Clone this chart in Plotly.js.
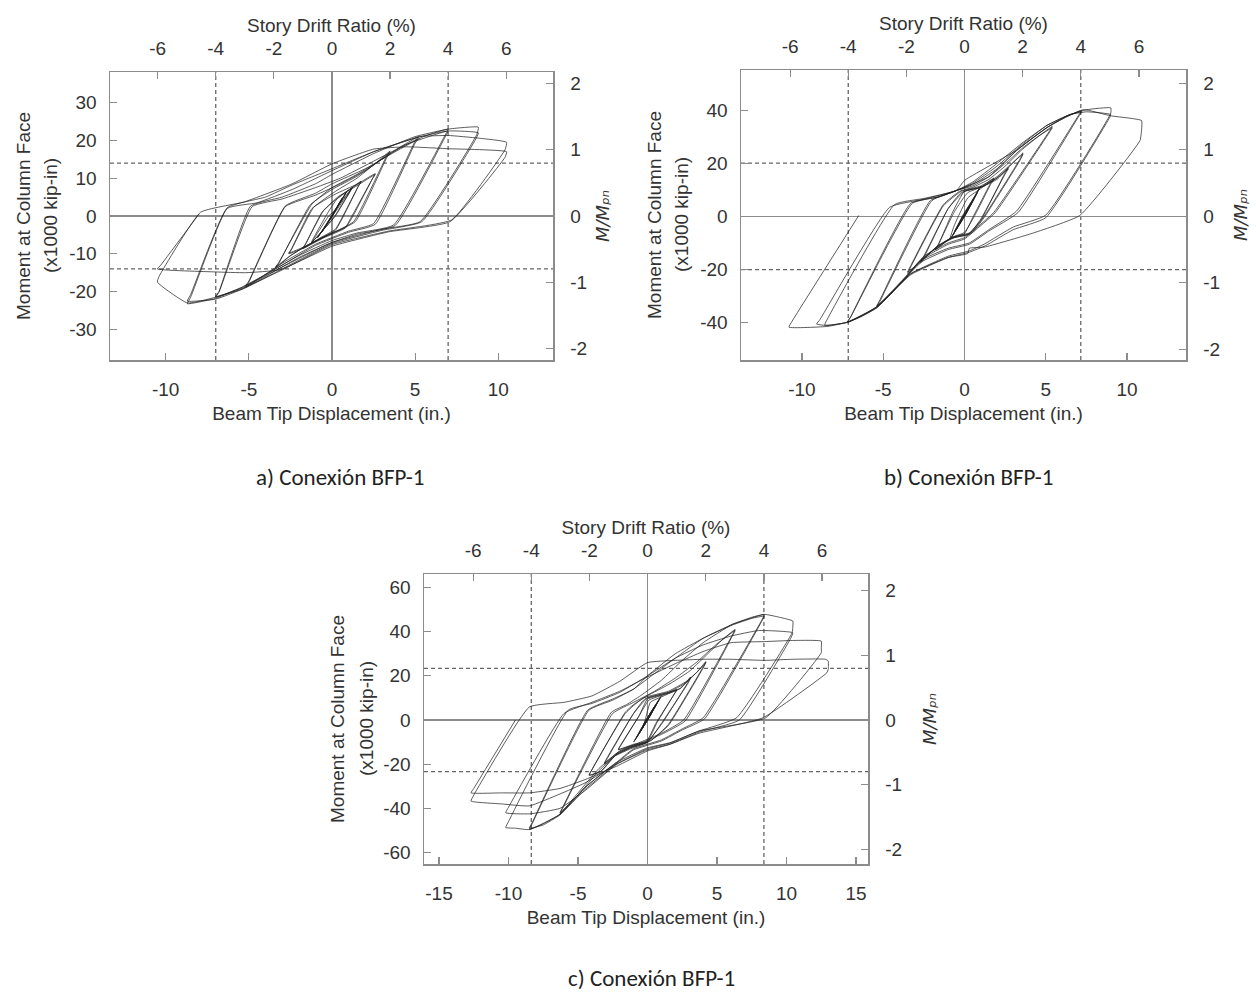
<!DOCTYPE html>
<html><head><meta charset="utf-8">
<script src="https://cdn.plot.ly/plotly-3.0.1.min.js"></script>
<style>html,body{margin:0;padding:0;background:#fff}#chart{width:1256px;height:992px}</style>
</head><body><div id="chart"></div>
<script>
// ---------- DATA ----------
// Beam tip displacement (in.) / moment at column face (x1000 kip-in), path order
const loopA = [
[0,0],[0.6,4.6],[-0.05,-0.4],[-0.6,-4.2],[0.05,0.6],[0.62,4.8],[-0.05,-0.5],[-0.62,-4.3],
[0.85,6.2],[-0.1,-0.8],[-0.85,-5.6],[0.1,0.9],[0.88,6.4],[-0.1,-0.7],[-0.88,-5.8],
[1.2,7.4],[0.2,0.2],[-0.1,-1.5],[-1.2,-6.9],[-0.2,0],[0.1,1.2],[1.25,7.7],[0.2,0],[-0.1,-1.6],[-1.25,-7.1],[-0.3,0.5],
[0.3,4.5],[1.75,9],[1.6,8],[0.6,-0.5],[0.2,-3.5],[-0.8,-6],[-1.75,-8.5],[-1.6,-7.5],[-0.6,1],[0.3,4.6],[1.75,9.2],[1.6,8],[0.6,-0.8],[0.2,-3.8],[-0.8,-6.2],[-1.75,-8.6],[-1.6,-7.5],[-0.5,1.5],
[0.4,5.2],[1.5,8],[2.6,11],[2.45,10],[1.2,0],[0.8,-3],[-0.5,-5.5],[-1.6,-8],[-2.6,-9.8],[-2.45,-8.8],[-1.2,2],[0.2,5.8],[1.5,8.4],[2.6,11.2],[2.45,10],[1.2,-0.5],[0.8,-3.2],[-0.5,-5.8],[-1.6,-8.3],[-2.6,-10],[-2.45,-9],[-1.1,2.3],
[0.2,6.5],[1.5,10],[2.5,13.5],[3.5,17.2],[3.3,16],[1.3,-1.5],[0,-4.5],[-1.5,-7.8],[-2.5,-10.5],[-3.4,-13.8],[-3.2,-12.5],[-1.3,3],[0,7],[1.5,10.5],[2.6,13.8],[3.5,16.8],[3.3,15.5],[1.4,-1.5],[0,-4.6],[-1.6,-8],[-2.6,-10.8],[-3.4,-13.5],[-3.2,-12.3],[-1.2,3.2],
[0,7.5],[1.5,11],[3,15],[4.2,18.5],[5.2,21],[5,19.8],[2.5,-2],[1,-4],[-1,-7.5],[-3,-12.5],[-4.2,-16],[-5.2,-18.8],[-5,-17.5],[-2.8,2.5],[-1,5.5],[0.5,8.5],[2,12],[3.5,16.5],[5.2,20.5],[5,19.3],[2.6,-2.2],[1,-4.3],[-1,-7.8],[-3,-13],[-4.3,-16.3],[-5.2,-18.5],[-5,-17.2],[-2.8,2.7],
[-1,6],[0,8.5],[2,12.5],[4,17.5],[5.5,21],[7,23],[6.85,21.8],[3.7,-2.4],[1.5,-4.5],[0,-6.5],[-2,-10.5],[-4,-15.5],[-5.5,-19],[-7,-21.5],[-6.8,-20.2],[-4.8,2.5],[-3,4.5],[-1,7.5],[0.5,10],[2.5,14.5],[4.5,19],[7,22.5],[6.85,21.3],[3.8,-2.5],[1.5,-4.8],[0,-7],[-2,-11],[-4,-16],[-5.5,-19.5],[-7,-21.3],[-6.8,-20],[-4.9,2.6],
[-3,5],[-1,8.5],[0,11],[2.5,16.5],[5,21],[7,23],[8.8,23.5],[8.7,21.5],[5.3,-1.5],[3,-3.5],[0,-7],[-3,-13.5],[-5.2,-18.5],[-7,-21.8],[-8.7,-23.2],[-8.5,-21.5],[-6.3,2],[-4.5,3.5],[-2.4,7],[0,12],[2.5,17],[5.3,21],[7,22.5],[8.8,22],[8.6,20],[5.4,-1.5],[3,-3.8],[0,-7.3],[-3,-14],[-5.2,-19],[-7,-22],[-8.7,-22.5],[-8.5,-20.8],[-6.3,2.2],
[-4,5],[-2.4,8.2],[0,12.5],[2.5,17],[5.3,21],[7,21.3],[8.8,20.6],[10.5,19.5],[10.4,17.5],[7.2,-1],[3.4,-4],[0,-7.6],[-3.1,-14.5],[-5.2,-18.8],[-7,-21.5],[-8.7,-23],[-10.5,-17.5],[-10.4,-16],[-7.9,1],[-5.3,3.7],[-2.4,8.5],[0,13.8],[2.5,17.7],[4.5,18.3],[7,17.8],[10.5,17],[10.4,15.5],[7.1,-1.5],[3.4,-4.2],[0,-8],[-3.1,-14.2],[-5.2,-15],[-7,-14.8],[-10.5,-14],[-10.3,-13],[-8,0.5]
];
const loopB = [
[0,0],[0.5,6],[-0.1,0],[-0.5,-5],[0.1,1],[0.6,7],[-0.1,0],[-0.6,-5.5],[0.1,1],[0.8,9],[-0.1,0.5],[-0.7,-7],[0.1,1.5],[0.9,10.5],[-0.1,0],[-0.8,-8],[0.1,1.5],[1.0,11.5],[0,0],[-0.9,-8.5],
[-0.6,-3],[0.2,7],[1.0,10.5],[1.8,14],[1.6,12],[0.6,0],[0,-6],[-0.8,-8],[-1.8,-12.5],[-1.6,-10.5],[-0.6,2],[0.2,9],[1,11],[1.8,14.5],[1.6,12.5],[0.5,-0.5],[0,-6.5],[-0.9,-8.5],[-1.8,-12.5],[-1.6,-10.5],[-0.7,2],
[0,9.5],[1,11],[2,14.5],[2.7,18],[2.5,16],[1,-1],[0.3,-6.5],[-0.8,-8],[-1.8,-12],[-2.7,-17],[-2.5,-15],[-1,3],[0,9.5],[1.2,11.5],[2.1,15],[2.7,18.5],[2.5,16.5],[1,-1.5],[0.2,-6.8],[-0.8,-8.2],[-1.9,-12.5],[-2.7,-17.5],[-2.5,-15.5],[-1,3],
[-0.2,9],[1,11],[2,14],[2.8,19],[3.6,24],[3.4,21.5],[1.2,0],[0.4,-6],[-0.6,-7.5],[-1.5,-10.5],[-2.6,-16],[-3.5,-21.6],[-3.3,-19],[-1.3,4],[-0.2,9.5],[1,11.5],[2,15],[2.9,20],[3.6,23.5],[3.4,21],[1.2,-0.5],[0.4,-6.5],[-0.6,-8],[-1.6,-11],[-2.7,-17],[-3.5,-21],[-3.3,-18.5],[-1.3,4.5],
[-0.3,9.5],[0.5,11],[1.5,14],[2.5,19],[3.5,25],[4.5,30],[5.4,34],[5.2,32],[1.8,1.5],[0.8,-4],[0,-8],[-1,-10],[-2.5,-15],[-3.5,-22],[-4.5,-29],[-5.4,-34.2],[-5.2,-32],[-2,6],[-0.5,9.8],[0.5,11.5],[1.5,15],[2.7,21],[3.6,26],[4.6,30.5],[5.4,33.5],[5.2,31.5],[1.9,1.5],[0.8,-4.5],[0,-8.5],[-1,-10.5],[-2.6,-16],[-3.6,-23],[-4.6,-29.5],[-5.4,-33.8],[-5.2,-31.5],[-2.1,6],
[-0.8,9],[0,11],[1.5,15],[3.2,24.9],[5.1,33.7],[6.2,37.5],[7.2,40],[7,38],[3.2,2],[1.5,-5],[0.3,-10],[-1,-12],[-2.5,-16],[-3.5,-22],[-5.4,-34],[-6.3,-37.5],[-7.2,-40],[-7,-38],[-3.2,5],[-1.5,7.5],[-0.5,9.8],[0.5,12],[2,18],[3.5,26.5],[5.2,34],[6.3,38],[7.2,39.5],[7,37.5],[3.3,1.5],[1.5,-5.5],[0.3,-10.5],[-1,-12.5],[-2.6,-17],[-3.6,-23],[-5.4,-34.5],[-6.4,-38],[-7.2,-39.8],[-7,-37.8],[-3.3,5],
[-1.5,7.5],[-0.5,9.8],[0.5,12.5],[2,19],[3.5,27],[5.1,34.5],[6.5,38.5],[7.5,40.3],[9,41],[9,39],[5,0.5],[3,-4],[1.2,-10.5],[0.3,-13],[-1,-15],[-3.3,-21.6],[-5.4,-34.2],[-7.2,-39.9],[-8.4,-41.2],[-9.1,-40.6],[-8.9,-39],[-4.6,3.5],[-2.5,6.5],[-0.5,9.8],[0.5,13],[2,20],[3.5,27.5],[5.1,34.5],[6.5,38.5],[7.5,39.5],[9,38.5],[8.9,37],[5,-0.5],[3,-5],[1.3,-11],[0.3,-13.5],[-1,-15.5],[-3.3,-22],[-5.4,-34.5],[-7.2,-40],[-8.6,-41],[-8.5,-39.5],[-4.3,4.5],
[-2.5,6.8],[-0.5,9.8],[0,13.6],[1.5,19],[3.2,25],[5.1,33.7],[7.3,40.3],[9,38],[10.9,36.2],[10.9,33],[10.8,28.7],[7.1,0.4],[4.1,-6.5],[1.2,-11.6],[0.3,-12],[0.2,-14],[-1,-15.5],[-3.3,-21.6],[-5.4,-34.2],[-7.2,-39.9],[-8.4,-41.5],[-10.8,-41.8],[-10.6,-39.5],[-6.5,0.4]
];
const loopC = [
[0,0],[0.5,6],[-0.1,0],[-0.5,-5],[0.1,1],[0.6,7],[-0.1,0],[-0.6,-6],[0.1,1],[0.8,9],[-0.1,0],[-0.8,-8],[0.1,1],[0.9,10],[-0.1,0],[-0.9,-9],[0.1,1],[1,11],[0,0],[-1,-10],
[-0.3,-3],[0.2,8],[1.2,11],[2.1,13.5],[1.9,11.5],[0.7,-1],[0,-9.5],[-1,-11],[-2.1,-13.3],[-1.9,-11],[-0.6,2],[0.1,9],[1.2,11.5],[2.1,13.8],[1.9,11.5],[0.6,-1.5],[-0.1,-10],[-1.1,-11.5],[-2.1,-13.5],[-1.9,-11.3],[-0.6,2],
[0,9.5],[1.5,12],[2.3,14],[3.1,19],[2.9,16.5],[1,-1.5],[0,-10],[-1.2,-12],[-2.2,-15],[-3.1,-19.5],[-2.9,-17],[-1,3],[0,10],[1.5,12.5],[2.4,14.5],[3.1,19.5],[2.9,17],[1,-2],[-0.1,-10.5],[-1.2,-12.5],[-2.2,-15.5],[-3.1,-20],[-2.9,-17.5],[-1,3],
[-0.2,9.5],[1.5,12.5],[2.8,17],[3.6,22],[4.2,26.5],[4,24],[1.5,-2],[0.3,-9],[-1.2,-12.5],[-2.3,-16],[-3.3,-23],[-4.2,-25],[-4,-22.5],[-1.6,3],[-0.3,10],[1.5,13],[2.8,17.5],[3.7,22.5],[4.2,26],[4,23.5],[1.5,-2.5],[0.2,-9.5],[-1.2,-13],[-2.4,-16.5],[-3.4,-23.5],[-4.2,-25],[-4,-22.5],[-1.6,3.5],
[-1,7],[0,11],[1.5,16],[3,22],[4.5,31],[5.5,37],[6.3,41],[6.1,38.5],[2.6,0],[1,-6],[-0.5,-10],[-2,-14],[-3.5,-22],[-5,-33],[-6.3,-42.7],[-6.1,-40],[-2.5,3],[-1,8],[0.5,13],[2,19],[3.5,26],[5,34.5],[6.3,40.5],[6.1,38],[2.7,-0.5],[1,-6.5],[-0.5,-10.5],[-2,-14.5],[-3.5,-23],[-5,-34],[-6.3,-42],[-6.1,-39.5],[-2.6,3.5],
[-1.5,7],[-0.5,11],[1,18],[2.5,27],[4,35],[6.1,43.3],[7.5,46.5],[8.4,47.8],[8.2,45],[4,1],[2.5,-4],[1,-9],[-1,-13],[-2.25,-19.3],[-4.5,-30.6],[-6.3,-42.7],[-7.5,-47],[-8.5,-49.6],[-8.3,-47],[-4.2,4.5],[-2.5,9],[-1,14],[0.5,21],[2,28],[4,37],[6.1,43],[7.5,46],[8.4,47],[8.2,44.5],[4.1,0.5],[2.5,-4.5],[1,-9.5],[-1,-13.5],[-2.3,-20],[-4.5,-31.5],[-6.3,-43],[-7.5,-47.5],[-8.5,-49],[-8.3,-46.5],[-4.3,4.5],
[-2.5,9.5],[-1,14],[0,20],[2,30],[4,37],[6.1,43.3],[8.4,47.8],[9.5,46.5],[10.45,44.8],[10.45,42],[10.4,39.5],[6.4,1],[3.7,-5],[1.6,-10.3],[0,-12.6],[-2.25,-19.3],[-4.5,-30.6],[-6.3,-42.7],[-8.5,-49.6],[-9.5,-49],[-10.2,-48.7],[-10,-46],[-5.7,4.5],[-4,7.5],[-2,12.5],[0,20],[2,28],[4,34],[6,38],[8,40.5],[10.45,39.5],[10.3,37],[6.6,0],[3.7,-5.5],[1.6,-11],[0,-13.5],[-2.2,-20],[-4.5,-32],[-6.3,-40],[-8.5,-42.5],[-10.2,-42],[-10,-39.5],[-6,3],
[-4,8],[-2,13],[0,19.5],[2,25.5],[4,31],[6,35],[8.4,35.5],[10.45,36],[12.5,35.7],[12.5,33],[12.5,30.5],[8.5,1],[3.7,-5],[1.6,-10.5],[0,-13],[-2.25,-20],[-4.5,-28.5],[-6.3,-33.5],[-8.5,-38.9],[-10.5,-38],[-12.7,-36.7],[-12.5,-34],[-8.5,5.9],[-6,8],[-4,10.9],[-2,17.5],[0,26],[2,27],[4,27.5],[6,27.5],[8.4,27],[10.45,27.5],[12.8,27.5],[13,26.7],[13,23],[12.9,21.4],[8.3,1],[3.7,-6],[1.6,-11],[0,-14],[-2.25,-21],[-4.5,-27],[-6.3,-31],[-8.5,-33],[-10.5,-33],[-12.7,-33],[-12.5,-31],[-9.5,0]
];
// tick values
const dispTicksAB = [-10, -5, 0, 5, 10];
const dispTicksC = [-15, -10, -5, 0, 5, 10, 15];
const driftTicks = [-6, -4, -2, 0, 2, 4, 6];
const momTicksA = [-30, -20, -10, 0, 10, 20, 30];
const momTicksB = [-40, -20, 0, 20, 40];
const momTicksC = [-60, -40, -20, 0, 20, 40, 60];
const ratioTicks = [-2, -1, 0, 1, 2];
// reference lines: story drift +-4 %, M/Mpn = +-0.8
const driftRef = [-4, 4];
const ratioRef = [-0.8, 0.8];
const captions = ['a) Conexión BFP-1', 'b) Conexión BFP-1', 'c) Conexión BFP-1'];
const titles = {
  bottom: 'Beam Tip Displacement (in.)',
  top: 'Story Drift Ratio (%)',
  left: 'Moment at Column Face',
  leftUnit: '(x1000 kip-in)',
  right: '<i>M/Mₚₙ</i>'
};

// ---------- LAYOUT ----------
const W = 1256, H = 992;
const fx = p => p / W, fy = p => 1 - p / H;
const AX = 'Liberation Sans, Arial, sans-serif';
const GRAY = '#8c8c8c';
const panels = [
  {loop: loopA, box: [110, 553, 72, 360], xr: [-13.35, 13.29], x2r: [-7.64, 7.61], yr: [-38.1, 38.1], y2r: [-2.175, 2.175],
   xt: dispTicksAB, yt: momTicksA, cap: [340, 477], rso: 10, unitX: 50},
  {loop: loopB, box: [741, 1186, 70, 360], xr: [-13.75, 13.63], x2r: [-7.69, 7.62], yr: [-54.2, 55.3], y2r: [-2.16, 2.2],
   xt: dispTicksAB, yt: momTicksB, cap: [968, 477], rso: 15, unitX: 681},
  {loop: loopC, box: [424, 868, 574, 864], xr: [-16.08, 15.86], x2r: [-7.69, 7.58], yr: [-65.2, 66.1], y2r: [-2.23, 2.26],
   xt: dispTicksC, yt: momTicksC, cap: [651, 978], rso: 22, unitX: 366}
];

const layout = {
  width: W, height: H, margin: {l: 0, r: 0, t: 0, b: 0},
  paper_bgcolor: '#fff', plot_bgcolor: '#fff', showlegend: false,
  shapes: [], annotations: []
};
const data = [];
const tf = {family: AX, size: 19, color: '#333'};
const base = {
  showline: true, linecolor: GRAY, linewidth: 1.5, ticks: 'inside', ticklen: 7, tickcolor: GRAY, tickwidth: 1.2,
  showgrid: false, zeroline: false, tickmode: 'array', fixedrange: true, automargin: false,
  tickfont: tf
};
const lab = v => String(v);

panels.forEach((p, i) => {
  const n = 2 * i + 1;
  const xb = n === 1 ? 'x' : 'x' + n, yb = n === 1 ? 'y' : 'y' + n;
  const xt = 'x' + (n + 1), yt = 'y' + (n + 1);
  const kx = n === 1 ? 'xaxis' : 'xaxis' + n, ky = n === 1 ? 'yaxis' : 'yaxis' + n;
  const [L, R, T, B] = p.box;
  layout[kx] = Object.assign({}, base, {domain: [fx(L), fx(R)], anchor: yb, range: p.xr,
    tickvals: p.xt, ticktext: p.xt.map(lab), zeroline: true, zerolinecolor: GRAY, zerolinewidth: 1.5, ticklabelstandoff: 12,
    title: {text: titles.bottom, font: tf, standoff: 7}});
  layout[ky] = Object.assign({}, base, {domain: [fy(B), fy(T)], anchor: xb, range: p.yr,
    tickvals: p.yt, ticktext: p.yt.map(lab), zeroline: true, zerolinecolor: GRAY, zerolinewidth: 1.5, ticklabelstandoff: 8,
    title: {text: titles.left, font: tf, standoff: 33}});
  layout['xaxis' + (n + 1)] = Object.assign({}, base, {overlaying: xb, side: 'top', anchor: yb, range: p.x2r,
    tickvals: driftTicks, ticktext: driftTicks.map(lab), ticklabelstandoff: 8,
    title: {text: titles.top, font: tf, standoff: 0}});
  layout['yaxis' + (n + 1)] = Object.assign({}, base, {overlaying: yb, side: 'right', anchor: xb, range: p.y2r,
    tickvals: ratioTicks, ticktext: ratioTicks.map(lab), ticklabelstandoff: 12,
    title: {text: titles.right, font: {family: 'DejaVu Sans, Liberation Sans, sans-serif', size: 18, color: '#333'}, standoff: p.rso}});

  data.push({x: p.loop.map(q => q[0]), y: p.loop.map(q => q[1]), xaxis: xb, yaxis: yb, type: 'scatter', mode: 'lines',
    line: {color: 'rgba(30,30,30,0.72)', width: 1, shape: 'spline', smoothing: 0.4}, hoverinfo: 'skip'});
  data.push({x: p.x2r, y: p.y2r, xaxis: xt, yaxis: yt, type: 'scatter', mode: 'none', hoverinfo: 'skip'});

  const dash = {color: '#666', width: 1.3, dash: '4px,3px'};
  driftRef.forEach(d => layout.shapes.push({type: 'line', xref: xt, x0: d, x1: d, yref: yb + ' domain', y0: 0, y1: 1, line: dash, layer: 'below'}));
  ratioRef.forEach(r => layout.shapes.push({type: 'line', yref: yt, y0: r, y1: r, xref: xb + ' domain', x0: 0, x1: 1, line: dash, layer: 'below'}));

  layout.annotations.push({xref: 'paper', yref: 'paper', x: fx(p.unitX), y: fy((T + B) / 2), text: titles.leftUnit, showarrow: false,
    font: tf, textangle: -90, xanchor: 'center', yanchor: 'middle'});
  layout.annotations.push({xref: 'paper', yref: 'paper', x: fx(p.cap[0]), y: fy(p.cap[1]), text: captions[i], showarrow: false,
    font: {family: 'Carlito, Lato, "Open Sans", sans-serif', size: 23, color: '#222'}, xanchor: 'center', yanchor: 'middle'});
});

Plotly.newPlot('chart', data, layout, {displayModeBar: false, staticPlot: true});
</script>
</body></html>
